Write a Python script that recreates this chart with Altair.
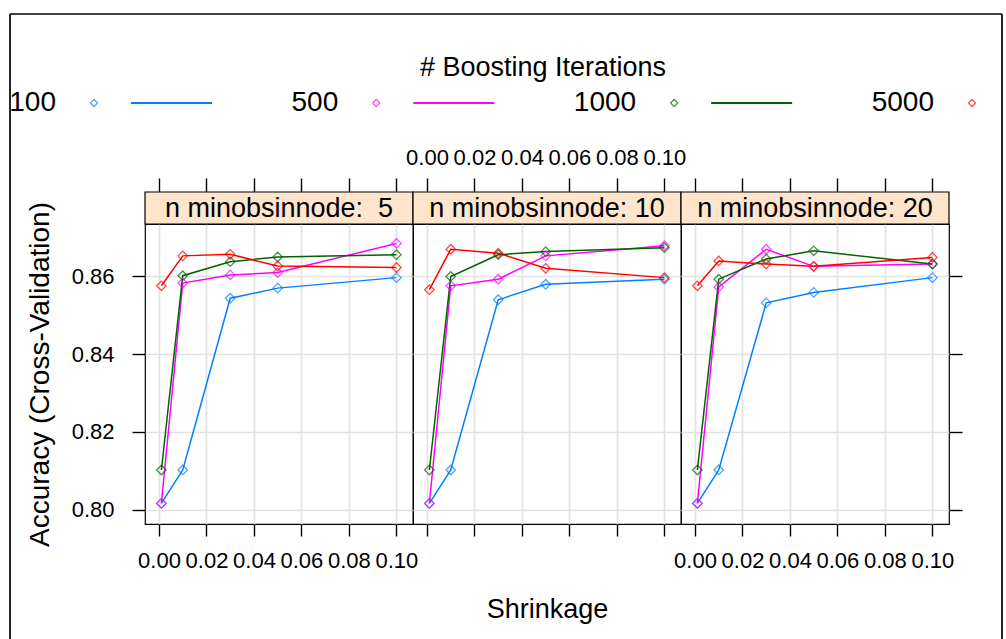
import altair as alt
import pandas as pd

# ---------------- data ----------------
shrinkage = [0.001, 0.01, 0.03, 0.05, 0.1]
iterations = ["100", "500", "1000", "5000"]
node_sizes = [5, 10, 20]
strip_labels = ["n minobsinnode:\u00a0 5", "n minobsinnode: 10", "n minobsinnode: 20"]
colors = ["#0080ff", "#ff00ff", "#006400", "#ff0000"]

# accuracy per boosting-iteration setting (rows follow `iterations`), one block per node size
acc_node5 = [
    [0.8016, 0.8102, 0.8544, 0.8570, 0.8597],
    [0.8016, 0.8583, 0.8604, 0.8610, 0.8685],
    [0.8102, 0.8602, 0.8638, 0.8650, 0.8656],
    [0.8576, 0.8653, 0.8657, 0.8627, 0.8623],
]
acc_node10 = [
    [0.8016, 0.8102, 0.8540, 0.8580, 0.8593],
    [0.8016, 0.8576, 0.8593, 0.8653, 0.8679],
    [0.8102, 0.8600, 0.8656, 0.8664, 0.8674],
    [0.8566, 0.8670, 0.8660, 0.8621, 0.8597],
]
acc_node20 = [
    [0.8016, 0.8102, 0.8532, 0.8559, 0.8597],
    [0.8016, 0.8573, 0.8670, 0.8626, 0.8632],
    [0.8102, 0.8593, 0.8645, 0.8666, 0.8632],
    [0.8576, 0.8640, 0.8632, 0.8626, 0.8649],
]
x_ticks = [0.0, 0.02, 0.04, 0.06, 0.08, 0.10]
y_ticks = [0.80, 0.82, 0.84, 0.86]

legend_title = "# Boosting Iterations"
x_title = "Shrinkage"
y_title = "Accuracy (Cross-Validation)"

# ---------------- tables ----------------
rows = []
for node, block in zip(node_sizes, [acc_node5, acc_node10, acc_node20]):
    for it, vals in zip(iterations, block):
        for s, v in zip(shrinkage, vals):
            rows.append({"node": node, "iter": it, "shrinkage": s, "acc": v})
df = pd.DataFrame(rows)

# ---------------- style ----------------
FONT = "Liberation Sans"
W, H = 268, 300
STRIP_H = 32
GRID = "#e2e2e2"

xscale = alt.Scale(domain=[-0.0059, 0.1070], nice=False, zero=False)
yscale = alt.Scale(domain=[0.7963, 0.8735], nice=False, zero=False)
cscale = alt.Scale(domain=iterations, range=colors)
color_enc = alt.Color("iter:N", scale=cscale, sort=iterations, legend=None)


def x_bottom(show_labels, title=None):
    return alt.Axis(orient="bottom", values=x_ticks, format=".2f", grid=True,
                    gridColor=GRID, gridWidth=1.6, domain=False, tickSize=12,
                    tickColor="black", tickWidth=1.4, labels=show_labels,
                    labelFontSize=22, labelPadding=14, labelColor="black",
                    labelOverlap=False, labelFlush=False,
                    title=title, titleFontSize=27, titleFontWeight="normal",
                    titleColor="black", titlePadding=60)


def x_top(show_labels):
    return alt.Axis(orient="top", offset=STRIP_H, values=x_ticks, format=".2f",
                    grid=False, domain=False, tickSize=14, tickColor="black",
                    tickWidth=1.4, labels=show_labels, labelFontSize=22,
                    labelPadding=9, labelColor="black", labelOverlap=False,
                    labelFlush=False, title=None)


def y_left(show):
    if show:
        return alt.Axis(orient="left", values=y_ticks, format=".2f", grid=True,
                        gridColor=GRID, gridWidth=1.6, domain=False, tickSize=13,
                        tickColor="black", tickWidth=1.4, labelFontSize=22,
                        labelPadding=18, labelColor="black", labelOverlap=False,
                        title=y_title, titleFontSize=28, titleFontWeight="normal",
                        titleColor="black", titlePadding=17)
    return alt.Axis(orient="left", values=y_ticks, grid=True, gridColor=GRID,
                    gridWidth=1.6, domain=False, ticks=False, labels=False, title=None)


def y_right():
    return alt.Axis(orient="right", values=y_ticks, grid=False, domain=False,
                    tickSize=13, tickColor="black", tickWidth=1.4, labels=False,
                    title=None)


def panel(i):
    node = node_sizes[i]
    d = df[df["node"] == node]
    strip_df = pd.DataFrame({"label": [strip_labels[i]]})

    strip_rect = alt.Chart(strip_df).mark_rect(
        fill="#ffe5cc", stroke="black", strokeWidth=1.2
    ).encode(x=alt.value(0), x2=alt.value(W), y=alt.value(-STRIP_H), y2=alt.value(0))
    strip_text = alt.Chart(strip_df).mark_text(
        fontSize=27, baseline="middle", align="center", color="black"
    ).encode(x=alt.value(W / 2), y=alt.value(-STRIP_H / 2 + 1), text="label:N")

    lines = alt.Chart(d).mark_line(strokeWidth=1.5).encode(
        x=alt.X("shrinkage:Q", scale=xscale,
                axis=x_bottom(i != 1, x_title if i == 1 else None)),
        y=alt.Y("acc:Q", scale=yscale, axis=y_left(i == 0)),
        color=color_enc,
        order=alt.Order("shrinkage:Q"),
    )
    pts = alt.Chart(d).mark_point(shape="diamond", filled=False, size=90,
                                  strokeWidth=1.3).encode(
        x=alt.X("shrinkage:Q", scale=xscale, axis=x_top(i == 1)),
        y=alt.Y("acc:Q", scale=yscale,
                axis=y_right() if i == 2 else None),
        color=color_enc,
    )
    layers = [strip_rect, strip_text, lines, pts]

    if i == 0:
        # thin frame around the whole picture (left, top, right edges)
        one = pd.DataFrame({"k": [0]})
        fr = dict(color="black", strokeWidth=1.7)
        layers += [
            alt.Chart(one).mark_rule(**fr).encode(x=alt.value(-135), y=alt.value(-210), y2=alt.value(415)),
            alt.Chart(one).mark_rule(**fr).encode(x=alt.value(-135), x2=alt.value(857), y=alt.value(-210)),
            alt.Chart(one).mark_rule(**fr).encode(x=alt.value(857), y=alt.value(-210), y2=alt.value(415)),
        ]

    return alt.layer(*layers).resolve_axis(x="independent", y="independent").properties(
        width=W, height=H)


# ---------------- key on top ----------------
# key columns are spaced like lattice: a fixed part plus the width of the entry's label
LEG_W, LEG_H = 804, 40
key_pos = [0.0]
for lab in iterations[1:]:
    key_pos.append(key_pos[-1] + 15.1 + len(lab))
legend_df = pd.DataFrame({"iter": iterations, "slot": list(range(len(iterations))),
                          "pos": key_pos})
unit = 878.0 / key_pos[-1]
pos_x = alt.X("pos:Q", scale=alt.Scale(domain=[51 / unit, (51 + LEG_W) / unit],
                                       nice=False, zero=False), axis=None)
leg_text = alt.Chart(legend_df).mark_text(
    align="right", baseline="middle", dx=-38, fontSize=28, color="black"
).encode(x=pos_x, y=alt.value(LEG_H / 2), text="iter:N")
leg_pts = alt.Chart(legend_df).mark_point(
    shape="diamond", filled=False, size=50, strokeWidth=1.2
).encode(x=pos_x, y=alt.value(LEG_H / 2), color=color_enc)
# the last entry's line runs past the right edge of the picture
leg_lines = alt.Chart(legend_df).transform_filter("datum.slot < 3").mark_rule(
    xOffset=37, x2Offset=118, strokeWidth=2
).encode(x=pos_x, x2="pos:Q", y=alt.value(LEG_H / 2), color=color_enc)
leg_title = alt.Chart(pd.DataFrame({"t": [legend_title]})).mark_text(
    fontSize=27, baseline="middle", align="center", color="black"
).encode(x=alt.value(398), y=alt.value(-15), text="t:N")

legend = alt.layer(leg_title, leg_lines, leg_pts, leg_text).properties(
    width=LEG_W, height=LEG_H, view=alt.ViewBackground(strokeOpacity=0))

row = alt.hconcat(panel(0), panel(1), panel(2), spacing=0, bounds="flush")

chart = alt.vconcat(legend, row, spacing=101, bounds="flush").properties(
    padding={"left": 8, "top": 12, "right": 0, "bottom": 0}
).configure(font=FONT).configure_view(stroke="black", strokeWidth=1.2)

chart.save("out.html", embed_options={"renderer": "svg", "actions": False})
